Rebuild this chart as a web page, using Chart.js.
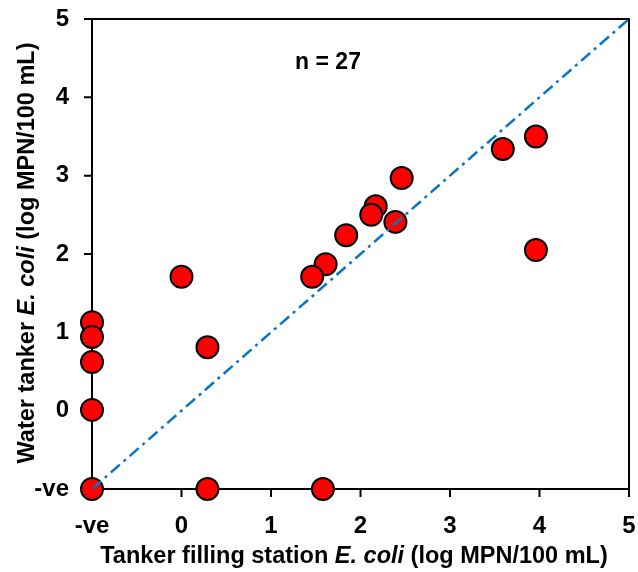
<!DOCTYPE html>
<html>
<head>
<meta charset="utf-8">
<script src="https://cdn.jsdelivr.net/npm/chart.js@4.4.1/dist/chart.umd.min.js"></script>
<style>
  html, body { margin: 0; padding: 0; background: #fff; }
  #chart { display: block; }
</style>
</head>
<body>
<canvas id="chart" width="638" height="572"></canvas>
<script>
// filling station (x) vs water tanker (y), log MPN/100 mL; -1 means "-ve"
const stationLog = [-1, -1, -1, -1, -1, 0, 0.29, 0.29, 1.58, 1.61, 1.46, 1.84, 2.17, 2.12, 2.39, 2.46, 3.59, 3.96, 3.96];
const tankerLog  = [1.13, 0.94, 0.62, 0.01, -1, 1.71, 0.81, -1, -1, 1.87, 1.71, 2.24, 2.61, 2.50, 2.41, 2.97, 3.34, 3.50, 2.05];
const oneToOne = [-1, 5];
const tickValues = [-1, 0, 1, 2, 3, 4, 5];
const tickNames  = ['-ve', '0', '1', '2', '3', '4', '5'];
const sampleCount = 'n = 27';

const FONT = '"Liberation Sans", Arial, sans-serif';

const points = stationLog.map((x, i) => ({ x: x, y: tankerLog[i] }));
const linePts = oneToOne.map(v => ({ x: v, y: v }));

const tickLabel = v => {
  const i = tickValues.indexOf(v);
  return i >= 0 ? tickNames[i] : '';
};

// box, outward tick marks, n label and the mixed italic axis titles
const extras = {
  id: 'extras',
  beforeDatasetsDraw(chart) {
    const { ctx, chartArea: a, scales } = chart;
    ctx.save();
    ctx.strokeStyle = '#000';
    ctx.lineWidth = 2;
    ctx.strokeRect(a.left, a.top, a.right - a.left, a.bottom - a.top);
    ctx.beginPath();
    tickValues.forEach(v => {
      if (v > tickValues[0]) {
        const px = scales.x.getPixelForValue(v);
        ctx.moveTo(px, a.bottom);
        ctx.lineTo(px, a.bottom + 8);
        const py = scales.y.getPixelForValue(v);
        ctx.moveTo(a.left, py);
        ctx.lineTo(a.left - 8, py);
      }
    });
    ctx.stroke();
    ctx.restore();
  },
  afterDraw(chart) {
    const { ctx } = chart;
    ctx.save();
    ctx.fillStyle = '#000';
    ctx.textBaseline = 'middle';
    ctx.textAlign = 'center';
    ctx.font = 'bold 23px ' + FONT;
    ctx.fillText(sampleCount, 328, 63);

    const drawParts = (parts, cx, cy) => {
      let w = 0;
      parts.forEach(p => { ctx.font = p[1]; w += ctx.measureText(p[0]).width; });
      let x = cx - w / 2;
      ctx.textAlign = 'left';
      parts.forEach(p => {
        ctx.font = p[1];
        ctx.fillText(p[0], x, cy);
        x += ctx.measureText(p[0]).width;
      });
    };
    const b = 'bold 23.5px ' + FONT;
    const bi = 'italic bold 23.5px ' + FONT;

    drawParts([['Tanker filling station ', b], ['E. coli', bi], [' (log MPN/100 mL)', b]], 354, 557);

    ctx.translate(28, 253);
    ctx.rotate(-Math.PI / 2);
    drawParts([['Water tanker ', b], ['E. coli', bi], [' (log MPN/100 mL)', b]], 0, 0);
    ctx.restore();
  }
};

// keep the edge tick labels from pushing the plot area inwards
const noPad = s => {
  s.paddingTop = 0; s.paddingBottom = 0; s.paddingLeft = 0; s.paddingRight = 0;
};

new Chart(document.getElementById('chart'), {
  type: 'scatter',
  data: {
    datasets: [
      {
        type: 'line',
        data: linePts,
        borderColor: '#0a74c4',
        borderWidth: 2.5,
        borderDash: [12, 5, 3, 5],
        pointRadius: 0,
        fill: false,
        order: 0
      },
      {
        data: points,
        backgroundColor: '#ff0000',
        borderColor: '#000',
        borderWidth: 2,
        pointRadius: 11,
        clip: false,
        order: 1
      }
    ]
  },
  plugins: [extras],
  options: {
    responsive: false,
    animation: false,
    events: [],
    layout: { autoPadding: false, padding: { top: 19, right: 9, left: 0, bottom: 0 } },
    plugins: { legend: { display: false }, tooltip: { enabled: false } },
    scales: {
      x: {
        min: -1, max: 5,
        afterFit: s => { s.height = 83; noPad(s); },
        grid: { display: false },
        border: { display: false },
        ticks: {
          stepSize: 1, padding: 15, color: '#000',
          font: { family: FONT, size: 24, weight: 'bold' },
          callback: tickLabel
        }
      },
      y: {
        min: -1, max: 5,
        afterFit: s => { s.width = 92; noPad(s); },
        grid: { display: false },
        border: { display: false },
        ticks: {
          stepSize: 1, padding: 15, color: '#000',
          font: { family: FONT, size: 24, weight: 'bold' },
          callback: tickLabel
        }
      }
    }
  }
});
</script>
</body>
</html>
